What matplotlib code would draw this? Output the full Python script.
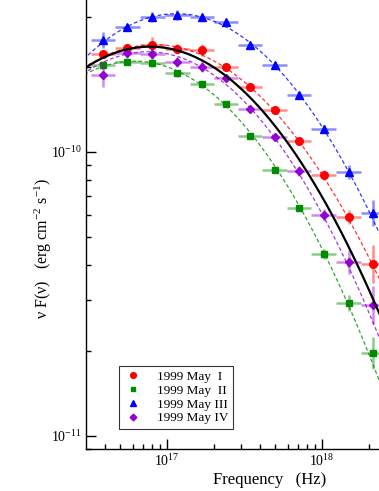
import numpy as np
import matplotlib
matplotlib.use("Agg")
import matplotlib.pyplot as plt
from matplotlib.ticker import NullFormatter

plt.rcParams['font.family'] = 'serif'
plt.rcParams['font.serif'] = ['Liberation Serif', 'DejaVu Serif']
plt.rcParams['mathtext.fontset'] = 'custom'
plt.rcParams['mathtext.rm'] = 'Liberation Serif'
plt.rcParams['mathtext.it'] = 'Liberation Serif:italic'

# Frecuencias (Hz): centros y bordes de los bins
nu = [3.87e16, 5.52e16, 8.0e16, 1.161e17, 1.683e17, 2.40e17,
      3.43e17, 4.98e17, 7.11e17, 1.031e18, 1.493e18, 2.13e18]
nu_edges = [3.24e16, 4.62e16, 6.65e16, 9.64e16, 1.397e17, 2.01e17, 2.87e17,
            4.13e17, 5.94e17, 8.55e17, 1.24e18, 1.79e18, 2.55e18]

# nu F(nu) (erg cm^-2 s^-1)
may_I = [2.21e-10, 2.33e-10, 2.39e-10, 2.30e-10, 2.28e-10, 2.00e-10,
         1.69e-10, 1.41e-10, 1.09e-10, 8.30e-11, 5.90e-11, 4.03e-11]
may_II = [2.02e-10, 2.08e-10, 2.05e-10, 1.89e-10, 1.73e-10, 1.48e-10,
          1.14e-10, 8.64e-11, 6.34e-11, 4.36e-11, 2.93e-11, 1.96e-11]
may_III = [2.48e-10, 2.75e-10, 2.99e-10, 3.03e-10, 2.99e-10, 2.86e-10,
           2.38e-10, 2.03e-10, 1.59e-10, 1.205e-10, 8.51e-11, 6.11e-11]
may_IV = [1.87e-10, 2.24e-10, 2.21e-10, 2.07e-10, 2.00e-10, 1.82e-10,
          1.42e-10, 1.13e-10, 8.55e-11, 6.0e-11, 4.11e-11, 2.89e-11]

# errores (dex)
err_I = [0.011, 0.014, 0.025, 0.018, 0.021, 0.011, 0.011, 0.011, 0.011, 0.018, 0.025, 0.067]
err_II = [0.014, 0.011, 0.014, 0.014, 0.011, 0.011, 0.011, 0.011, 0.011, 0.018, 0.028, 0.056]
err_III = [0.028, 0.011, 0.018, 0.018, 0.012, 0.011, 0.011, 0.011, 0.011, 0.014, 0.025, 0.046]
err_IV = [0.042, 0.018, 0.018, 0.018, 0.018, 0.011, 0.011, 0.014, 0.018, 0.021, 0.042, 0.067]

# parametros de las parabolas logaritmicas: log nu_pico, log flujo_pico, curvatura
fit_I = [16.92, -9.622, 0.392]
fit_II = [16.79, -9.680, 0.451]
fit_III = [17.06, -9.513, 0.450]
fit_IV = [16.875, -9.647, 0.4506]
fit_total = [16.89, -9.629, 0.429]

labels = ["1999 May  I", "1999 May  II", "1999 May III", "1999 May IV"]
colors = ['#ff0000', '#008b00', '#0000ff', '#9400d3']
markers = ['o', 's', '^', 'D']
msizes = [5.5, 4.0, 6.0, 4.5]

fig = plt.figure(figsize=(3.79, 4.91), dpi=100)
ax = fig.add_axes([0.2269, 0.08554, 0.971, 1.0163])
ax.set_xscale('log')
ax.set_yscale('log')

nu_a = np.array(nu)
edges = np.array(nu_edges)
xerr = [nu_a - edges[:-1], edges[1:] - nu_a]

grid = np.logspace(16.3, 19.0, 400)

def logpar(p, x):
    return 10 ** (p[1] - p[2] * (np.log10(x) - p[0]) ** 2)

series = [may_I, may_II, may_III, may_IV]
errs = [err_I, err_II, err_III, err_IV]
fits = [fit_I, fit_II, fit_III, fit_IV]

for y, e, p, c, m, ms, lab in zip(series, errs, fits, colors, markers, msizes, labels):
    y = np.array(y)
    e = np.array(e)
    yerr = [y * (1 - 10 ** (-e)), y * (10 ** e - 1)]
    ax.plot(grid, logpar(p, grid), ls=(0, (3, 2)), color=c, lw=0.9, alpha=0.8)
    ax.errorbar(nu_a, y, xerr=xerr, yerr=yerr, fmt='none', ecolor=c,
                elinewidth=1.8, alpha=0.45, capsize=0)
    ax.plot(nu_a, y, ls='none', marker=m, color=c, ms=ms, label=lab)

ax.plot(grid, logpar(fit_total, grid), color='black', lw=1.6)

ax.set_xlim(10 ** 16.4774, 10 ** 18.8516)
ax.set_ylim(10 ** -11.0458, 10 ** -9.2887)
ax.xaxis.set_minor_formatter(NullFormatter())
ax.yaxis.set_minor_formatter(NullFormatter())

for s in ax.spines.values():
    s.set_linewidth(1.0)
ax.tick_params(which='both', direction='in', labelsize=10, width=1.0)
ax.tick_params(which='major', length=7, pad=3)
ax.tick_params(which='minor', length=3.5)

ax.set_xlabel("Frequency   (Hz)", fontsize=12, labelpad=2)
fig.text(43 / 379, 1 - 248 / 491, "ν F(ν)   (erg cm$^{-2}$ s$^{-1}$)",
         rotation=90, ha='center', va='center', fontsize=11.5)

leg = ax.legend(loc='lower left', bbox_to_anchor=(119 / 379, 1 - 429 / 491),
                bbox_transform=fig.transFigure, frameon=True, fancybox=False,
                fontsize=9.5, labelspacing=0.12, handletextpad=1.1,
                handlelength=1.4, borderpad=0.35, borderaxespad=0,
                markerscale=0.75)
leg.get_frame().set_edgecolor('black')
leg.get_frame().set_linewidth(0.8)

fig.savefig("out.png", dpi=100)
